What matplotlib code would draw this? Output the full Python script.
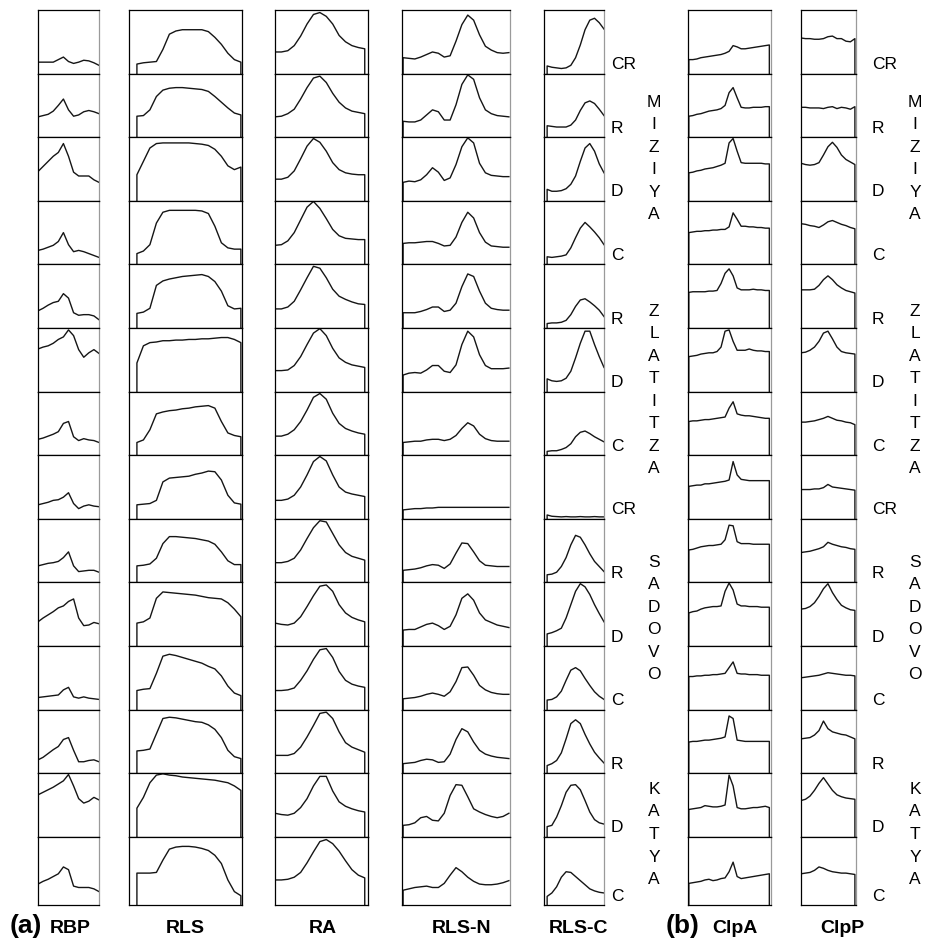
import numpy as np
import matplotlib
matplotlib.use('Agg')
import matplotlib.pyplot as plt

plt.rcParams['font.family'] = ['Liberation Sans', 'DejaVu Sans']

columns = ['RBP', 'RLS', 'RA', 'RLS-N', 'RLS-C', 'ClpA', 'ClpP']
row_labels = ['CR', 'R', 'D', 'C', 'R', 'D', 'C', 'CR', 'R', 'D', 'C', 'R', 'D', 'C']
groups = ['MIZIYA', 'ZLATITZA', 'SADOVO', 'KATYA']

# densitometry traces, y = relative intensity (0 bottom .. 1 top of the lane box)
rbp_x = np.linspace(0, 1, 13)
rbp = [
    [0.18, 0.18, 0.18, 0.18, 0.22, 0.26, 0.19, 0.16, 0.18, 0.21, 0.20, 0.17, 0.13],
    [0.32, 0.34, 0.36, 0.41, 0.50, 0.60, 0.43, 0.33, 0.35, 0.40, 0.42, 0.40, 0.37],
    [0.46, 0.54, 0.62, 0.70, 0.76, 0.90, 0.70, 0.45, 0.39, 0.39, 0.39, 0.33, 0.29],
    [0.22, 0.24, 0.27, 0.30, 0.36, 0.50, 0.31, 0.20, 0.22, 0.20, 0.17, 0.14, 0.11],
    [0.27, 0.31, 0.36, 0.40, 0.42, 0.54, 0.47, 0.24, 0.20, 0.21, 0.21, 0.19, 0.13],
    [0.67, 0.70, 0.72, 0.76, 0.82, 0.86, 0.97, 0.88, 0.66, 0.54, 0.61, 0.66, 0.60],
    [0.25, 0.27, 0.30, 0.33, 0.37, 0.50, 0.53, 0.29, 0.23, 0.26, 0.24, 0.23, 0.20],
    [0.22, 0.24, 0.26, 0.29, 0.30, 0.34, 0.41, 0.24, 0.16, 0.20, 0.22, 0.20, 0.19],
    [0.26, 0.28, 0.30, 0.31, 0.33, 0.39, 0.48, 0.26, 0.17, 0.18, 0.19, 0.19, 0.16],
    [0.38, 0.44, 0.49, 0.54, 0.60, 0.63, 0.70, 0.74, 0.44, 0.32, 0.33, 0.37, 0.35],
    [0.19, 0.20, 0.21, 0.22, 0.23, 0.31, 0.35, 0.20, 0.18, 0.20, 0.18, 0.17, 0.16],
    [0.21, 0.25, 0.31, 0.37, 0.42, 0.53, 0.56, 0.36, 0.18, 0.18, 0.20, 0.21, 0.18],
    [0.66, 0.70, 0.74, 0.78, 0.83, 0.88, 0.98, 0.80, 0.60, 0.53, 0.56, 0.62, 0.58],
    [0.31, 0.35, 0.38, 0.42, 0.46, 0.56, 0.52, 0.28, 0.26, 0.26, 0.26, 0.24, 0.20],
]

rls_x = np.linspace(0.07, 0.99, 17)
rls = [
    [0.15, 0.17, 0.18, 0.19, 0.38, 0.62, 0.67, 0.69, 0.69, 0.69, 0.69, 0.66, 0.57, 0.46, 0.32, 0.22, 0.18],
    [0.33, 0.34, 0.43, 0.64, 0.74, 0.77, 0.78, 0.78, 0.77, 0.76, 0.75, 0.72, 0.64, 0.55, 0.46, 0.38, 0.35],
    [0.41, 0.62, 0.83, 0.90, 0.91, 0.91, 0.91, 0.91, 0.91, 0.90, 0.89, 0.87, 0.81, 0.70, 0.55, 0.49, 0.53],
    [0.17, 0.21, 0.31, 0.65, 0.82, 0.85, 0.85, 0.85, 0.85, 0.85, 0.84, 0.80, 0.60, 0.34, 0.26, 0.24, 0.24],
    [0.23, 0.25, 0.31, 0.67, 0.74, 0.77, 0.79, 0.81, 0.82, 0.83, 0.84, 0.81, 0.73, 0.58, 0.35, 0.30, 0.31],
    [0.45, 0.72, 0.77, 0.78, 0.80, 0.80, 0.81, 0.81, 0.82, 0.82, 0.83, 0.83, 0.84, 0.85, 0.85, 0.82, 0.77],
    [0.20, 0.24, 0.40, 0.65, 0.68, 0.70, 0.71, 0.73, 0.74, 0.76, 0.77, 0.78, 0.74, 0.53, 0.35, 0.31, 0.29],
    [0.22, 0.23, 0.24, 0.29, 0.58, 0.64, 0.65, 0.66, 0.67, 0.70, 0.72, 0.75, 0.74, 0.61, 0.37, 0.25, 0.23],
    [0.26, 0.27, 0.29, 0.38, 0.61, 0.72, 0.72, 0.71, 0.70, 0.69, 0.67, 0.65, 0.60, 0.48, 0.34, 0.28, 0.28],
    [0.36, 0.38, 0.44, 0.75, 0.85, 0.84, 0.83, 0.82, 0.81, 0.80, 0.78, 0.76, 0.75, 0.74, 0.68, 0.58, 0.46],
    [0.30, 0.32, 0.33, 0.57, 0.84, 0.87, 0.85, 0.82, 0.79, 0.76, 0.73, 0.68, 0.64, 0.53, 0.37, 0.26, 0.22],
    [0.35, 0.36, 0.38, 0.62, 0.86, 0.88, 0.87, 0.85, 0.83, 0.81, 0.80, 0.76, 0.69, 0.56, 0.36, 0.26, 0.23],
    [0.45, 0.62, 0.85, 0.97, 0.99, 0.97, 0.96, 0.94, 0.93, 0.92, 0.91, 0.90, 0.89, 0.87, 0.85, 0.80, 0.73],
    [0.47, 0.47, 0.47, 0.48, 0.66, 0.82, 0.85, 0.86, 0.86, 0.85, 0.83, 0.80, 0.73, 0.61, 0.37, 0.20, 0.14],
]

ra_x = np.linspace(0, 0.965, 15)
ra = [
    [0.34, 0.34, 0.36, 0.44, 0.59, 0.78, 0.93, 0.96, 0.90, 0.78, 0.60, 0.50, 0.44, 0.41, 0.39],
    [0.32, 0.33, 0.37, 0.44, 0.60, 0.78, 0.93, 0.96, 0.86, 0.69, 0.55, 0.46, 0.41, 0.39, 0.37],
    [0.34, 0.34, 0.37, 0.47, 0.66, 0.86, 0.98, 0.92, 0.78, 0.60, 0.49, 0.44, 0.42, 0.41, 0.41],
    [0.30, 0.31, 0.37, 0.50, 0.70, 0.90, 0.99, 0.88, 0.72, 0.55, 0.45, 0.41, 0.40, 0.39, 0.39],
    [0.30, 0.30, 0.33, 0.42, 0.60, 0.79, 0.97, 0.94, 0.79, 0.61, 0.50, 0.45, 0.41, 0.38, 0.37],
    [0.33, 0.33, 0.34, 0.41, 0.55, 0.74, 0.92, 0.99, 0.88, 0.68, 0.53, 0.46, 0.42, 0.40, 0.38],
    [0.30, 0.30, 0.33, 0.40, 0.53, 0.71, 0.91, 0.97, 0.88, 0.66, 0.50, 0.42, 0.38, 0.35, 0.33],
    [0.29, 0.29, 0.31, 0.37, 0.50, 0.69, 0.90, 0.98, 0.91, 0.69, 0.50, 0.42, 0.39, 0.37, 0.35],
    [0.31, 0.31, 0.33, 0.38, 0.51, 0.69, 0.86, 0.97, 0.95, 0.77, 0.59, 0.47, 0.41, 0.38, 0.35],
    [0.36, 0.34, 0.33, 0.36, 0.46, 0.62, 0.79, 0.94, 0.96, 0.86, 0.65, 0.52, 0.45, 0.41, 0.38],
    [0.30, 0.30, 0.31, 0.34, 0.46, 0.61, 0.79, 0.94, 0.96, 0.82, 0.60, 0.46, 0.40, 0.37, 0.35],
    [0.28, 0.28, 0.28, 0.31, 0.41, 0.57, 0.75, 0.94, 0.96, 0.86, 0.65, 0.48, 0.41, 0.37, 0.33],
    [0.37, 0.35, 0.34, 0.37, 0.46, 0.60, 0.80, 0.95, 0.95, 0.72, 0.55, 0.48, 0.44, 0.41, 0.39],
    [0.37, 0.37, 0.38, 0.41, 0.48, 0.62, 0.78, 0.93, 0.96, 0.90, 0.79, 0.65, 0.52, 0.44, 0.40],
]

rls_n_x = np.linspace(0.01, 0.99, 19)
rls_n = [
    [0.25, 0.24, 0.23, 0.26, 0.30, 0.34, 0.32, 0.26, 0.28, 0.51, 0.77, 0.92, 0.84, 0.61, 0.43, 0.37, 0.33, 0.32, 0.33],
    [0.25, 0.24, 0.24, 0.27, 0.35, 0.43, 0.40, 0.27, 0.27, 0.51, 0.83, 0.98, 0.91, 0.62, 0.43, 0.37, 0.34, 0.33, 0.32],
    [0.29, 0.31, 0.30, 0.33, 0.41, 0.52, 0.45, 0.32, 0.36, 0.57, 0.85, 0.99, 0.91, 0.59, 0.44, 0.40, 0.39, 0.38, 0.38],
    [0.33, 0.34, 0.34, 0.35, 0.36, 0.36, 0.33, 0.29, 0.30, 0.43, 0.66, 0.82, 0.73, 0.50, 0.35, 0.29, 0.28, 0.27, 0.27],
    [0.24, 0.24, 0.24, 0.26, 0.29, 0.33, 0.33, 0.26, 0.28, 0.39, 0.65, 0.85, 0.81, 0.58, 0.39, 0.31, 0.29, 0.28, 0.28],
    [0.26, 0.29, 0.30, 0.29, 0.34, 0.41, 0.41, 0.32, 0.30, 0.42, 0.74, 0.95, 0.86, 0.58, 0.41, 0.36, 0.36, 0.36, 0.37],
    [0.20, 0.21, 0.22, 0.22, 0.24, 0.25, 0.25, 0.23, 0.25, 0.31, 0.42, 0.51, 0.46, 0.33, 0.26, 0.23, 0.22, 0.22, 0.22],
    [0.14, 0.15, 0.16, 0.16, 0.17, 0.17, 0.18, 0.18, 0.18, 0.18, 0.18, 0.18, 0.18, 0.18, 0.18, 0.18, 0.18, 0.18, 0.18],
    [0.19, 0.20, 0.21, 0.23, 0.26, 0.28, 0.27, 0.22, 0.29, 0.46, 0.62, 0.61, 0.48, 0.34, 0.27, 0.26, 0.25, 0.25, 0.25],
    [0.25, 0.26, 0.26, 0.30, 0.34, 0.36, 0.32, 0.26, 0.31, 0.49, 0.75, 0.82, 0.72, 0.52, 0.41, 0.37, 0.33, 0.31, 0.29],
    [0.17, 0.18, 0.19, 0.21, 0.24, 0.26, 0.24, 0.21, 0.28, 0.44, 0.66, 0.67, 0.54, 0.38, 0.31, 0.27, 0.25, 0.24, 0.24],
    [0.15, 0.16, 0.17, 0.20, 0.22, 0.21, 0.17, 0.18, 0.30, 0.53, 0.70, 0.65, 0.49, 0.36, 0.30, 0.27, 0.25, 0.24, 0.23],
    [0.18, 0.19, 0.22, 0.30, 0.32, 0.26, 0.25, 0.37, 0.65, 0.82, 0.81, 0.63, 0.44, 0.39, 0.35, 0.32, 0.30, 0.32, 0.37],
    [0.22, 0.24, 0.26, 0.27, 0.28, 0.26, 0.26, 0.32, 0.44, 0.55, 0.49, 0.41, 0.35, 0.31, 0.30, 0.30, 0.31, 0.33, 0.36],
]

rls_c_x = np.linspace(0.06, 1.0, 13)
rls_c = [
    [0.12, 0.10, 0.09, 0.08, 0.09, 0.13, 0.25, 0.45, 0.69, 0.84, 0.87, 0.80, 0.70],
    [0.18, 0.17, 0.16, 0.16, 0.16, 0.19, 0.27, 0.42, 0.54, 0.57, 0.53, 0.44, 0.34],
    [0.18, 0.15, 0.15, 0.16, 0.19, 0.26, 0.39, 0.62, 0.83, 0.90, 0.78, 0.58, 0.44],
    [0.12, 0.11, 0.12, 0.13, 0.15, 0.26, 0.42, 0.57, 0.66, 0.59, 0.51, 0.42, 0.31],
    [0.07, 0.08, 0.08, 0.09, 0.12, 0.21, 0.34, 0.44, 0.46, 0.41, 0.35, 0.28, 0.18],
    [0.20, 0.17, 0.16, 0.17, 0.21, 0.32, 0.53, 0.76, 0.95, 0.95, 0.74, 0.55, 0.38],
    [0.06, 0.07, 0.07, 0.09, 0.12, 0.18, 0.29, 0.36, 0.38, 0.34, 0.29, 0.25, 0.21],
    [0.06, 0.04, 0.035, 0.03, 0.035, 0.03, 0.03, 0.035, 0.03, 0.03, 0.035, 0.03, 0.03],
    [0.12, 0.13, 0.16, 0.25, 0.39, 0.59, 0.74, 0.71, 0.59, 0.45, 0.33, 0.25, 0.17],
    [0.19, 0.21, 0.24, 0.28, 0.44, 0.65, 0.86, 0.98, 0.93, 0.81, 0.65, 0.51, 0.38],
    [0.15, 0.16, 0.20, 0.29, 0.46, 0.62, 0.66, 0.61, 0.49, 0.38, 0.28, 0.21, 0.16],
    [0.12, 0.15, 0.20, 0.32, 0.54, 0.78, 0.84, 0.78, 0.61, 0.46, 0.33, 0.24, 0.16],
    [0.16, 0.18, 0.31, 0.49, 0.70, 0.81, 0.82, 0.74, 0.57, 0.39, 0.27, 0.22, 0.20],
    [0.13, 0.18, 0.27, 0.41, 0.49, 0.48, 0.42, 0.36, 0.30, 0.24, 0.21, 0.19, 0.18],
]

clpa_x = np.linspace(0.01, 0.98, 21)
clpa = [
    [0.22, 0.22, 0.23, 0.25, 0.26, 0.27, 0.28, 0.29, 0.30, 0.32, 0.35, 0.44, 0.42, 0.39, 0.39, 0.40, 0.41, 0.42, 0.43, 0.44, 0.45],
    [0.33, 0.34, 0.36, 0.37, 0.39, 0.41, 0.42, 0.43, 0.45, 0.50, 0.70, 0.78, 0.62, 0.47, 0.46, 0.46, 0.47, 0.47, 0.47, 0.48, 0.48],
    [0.44, 0.45, 0.47, 0.48, 0.50, 0.51, 0.52, 0.54, 0.56, 0.59, 0.91, 0.98, 0.78, 0.60, 0.59, 0.59, 0.59, 0.59, 0.59, 0.58, 0.58],
    [0.50, 0.51, 0.52, 0.52, 0.53, 0.53, 0.54, 0.54, 0.55, 0.55, 0.59, 0.81, 0.71, 0.60, 0.60, 0.59, 0.59, 0.58, 0.58, 0.57, 0.57],
    [0.56, 0.57, 0.57, 0.57, 0.57, 0.58, 0.58, 0.59, 0.70, 0.86, 0.93, 0.82, 0.63, 0.60, 0.60, 0.60, 0.61, 0.60, 0.60, 0.59, 0.59],
    [0.55, 0.56, 0.57, 0.59, 0.60, 0.61, 0.61, 0.63, 0.70, 0.95, 0.97, 0.79, 0.65, 0.65, 0.65, 0.67, 0.65, 0.64, 0.64, 0.63, 0.63],
    [0.53, 0.54, 0.54, 0.55, 0.56, 0.56, 0.57, 0.58, 0.59, 0.60, 0.74, 0.84, 0.65, 0.63, 0.62, 0.62, 0.61, 0.60, 0.59, 0.58, 0.58],
    [0.51, 0.52, 0.53, 0.53, 0.55, 0.55, 0.56, 0.57, 0.58, 0.59, 0.61, 0.90, 0.69, 0.62, 0.61, 0.60, 0.60, 0.60, 0.60, 0.60, 0.60],
    [0.51, 0.52, 0.54, 0.56, 0.57, 0.58, 0.58, 0.59, 0.60, 0.67, 0.90, 0.89, 0.64, 0.61, 0.61, 0.61, 0.60, 0.60, 0.60, 0.60, 0.60],
    [0.52, 0.54, 0.55, 0.58, 0.60, 0.61, 0.62, 0.62, 0.63, 0.86, 0.99, 0.88, 0.66, 0.63, 0.63, 0.62, 0.62, 0.62, 0.61, 0.61, 0.61],
    [0.52, 0.52, 0.53, 0.53, 0.54, 0.54, 0.55, 0.55, 0.56, 0.57, 0.66, 0.75, 0.57, 0.56, 0.56, 0.55, 0.55, 0.55, 0.54, 0.54, 0.54],
    [0.49, 0.50, 0.50, 0.51, 0.52, 0.52, 0.53, 0.54, 0.55, 0.57, 0.90, 0.86, 0.52, 0.51, 0.50, 0.50, 0.50, 0.50, 0.50, 0.50, 0.50],
    [0.43, 0.44, 0.45, 0.46, 0.49, 0.48, 0.47, 0.47, 0.48, 0.50, 0.97, 0.80, 0.46, 0.44, 0.44, 0.45, 0.46, 0.46, 0.47, 0.48, 0.46],
    [0.32, 0.33, 0.34, 0.35, 0.37, 0.38, 0.36, 0.37, 0.39, 0.40, 0.49, 0.63, 0.42, 0.39, 0.40, 0.41, 0.42, 0.43, 0.44, 0.45, 0.46],
]

clpp_x = np.linspace(0, 0.98, 13)
clpp = [
    [0.56, 0.55, 0.55, 0.54, 0.54, 0.55, 0.58, 0.59, 0.55, 0.55, 0.51, 0.50, 0.55],
    [0.47, 0.47, 0.46, 0.46, 0.46, 0.45, 0.47, 0.48, 0.45, 0.47, 0.46, 0.44, 0.48],
    [0.59, 0.57, 0.56, 0.57, 0.60, 0.72, 0.85, 0.92, 0.84, 0.72, 0.65, 0.61, 0.57],
    [0.64, 0.63, 0.61, 0.60, 0.58, 0.62, 0.67, 0.69, 0.66, 0.63, 0.61, 0.58, 0.56],
    [0.60, 0.60, 0.60, 0.61, 0.67, 0.76, 0.82, 0.76, 0.68, 0.63, 0.59, 0.57, 0.55],
    [0.61, 0.62, 0.65, 0.70, 0.79, 0.92, 0.95, 0.83, 0.70, 0.63, 0.61, 0.60, 0.59],
    [0.52, 0.52, 0.53, 0.54, 0.56, 0.58, 0.61, 0.58, 0.55, 0.54, 0.52, 0.51, 0.48],
    [0.46, 0.46, 0.46, 0.47, 0.47, 0.49, 0.54, 0.50, 0.49, 0.48, 0.47, 0.46, 0.45],
    [0.47, 0.48, 0.49, 0.51, 0.53, 0.56, 0.63, 0.60, 0.58, 0.56, 0.55, 0.53, 0.52],
    [0.58, 0.59, 0.62, 0.68, 0.78, 0.90, 0.98, 0.84, 0.73, 0.64, 0.60, 0.57, 0.56],
    [0.50, 0.51, 0.52, 0.53, 0.54, 0.56, 0.58, 0.57, 0.56, 0.55, 0.54, 0.54, 0.53],
    [0.54, 0.55, 0.56, 0.60, 0.67, 0.82, 0.70, 0.65, 0.63, 0.61, 0.60, 0.57, 0.54],
    [0.57, 0.59, 0.64, 0.73, 0.84, 0.93, 0.83, 0.73, 0.66, 0.63, 0.61, 0.60, 0.59],
    [0.46, 0.47, 0.48, 0.51, 0.56, 0.54, 0.51, 0.49, 0.48, 0.47, 0.47, 0.46, 0.45],
]

traces = {
    'RBP': (rbp_x, rbp), 'RLS': (rls_x, rls), 'RA': (ra_x, ra),
    'RLS-N': (rls_n_x, rls_n), 'RLS-C': (rls_c_x, rls_c),
    'ClpA': (clpa_x, clpa), 'ClpP': (clpp_x, clpp),
}

# layout in pixels
W, H = 925, 939
col_px = {'RBP': (38, 99), 'RLS': (129, 242), 'RA': (275, 368), 'RLS-N': (402, 510),
          'RLS-C': (543.5, 604), 'ClpA': (688, 771), 'ClpP': (801, 856)}
row_edges = [10 + 63.6 * r for r in range(14)] + [905.3]
rise_left = {'RLS', 'RLS-N', 'RLS-C', 'ClpA'}
drop_right = {'RLS', 'RA', 'ClpA', 'ClpP'}
gray_right = {'RBP', 'RLS-N', 'RLS-C', 'ClpA', 'ClpP'}

fig = plt.figure(figsize=(W / 100, H / 100), dpi=100)

for name in columns:
    xs, profiles = traces[name]
    x0, x1 = col_px[name]
    for r, ys in enumerate(profiles):
        top, bot = row_edges[r], row_edges[r + 1]
        ax = fig.add_axes([x0 / W, 1 - bot / H, (x1 - x0) / W, (bot - top) / H])
        px, py = list(xs), list(ys)
        if name in rise_left:
            px = [xs[0]] + px
            py = [0] + py
        if name in drop_right:
            px = px + [xs[-1]]
            py = py + [0]
        ax.plot(px, py, color='#151515', lw=1.0, solid_joinstyle='round')
        ax.set_xlim(0, 1)
        ax.set_ylim(0, 1)
        ax.set_xticks([])
        ax.set_yticks([])
        for s in ax.spines.values():
            s.set_linewidth(0.9)
            s.set_color('black')
        if name in gray_right:
            ax.spines['right'].set_color('#9a9a9a')


def ftext(x, y, s, **kw):
    fig.text(x / W, 1 - y / H, s, **kw)


for r, lab in enumerate(row_labels):
    yb = row_edges[r + 1] - 9
    ftext(611, yb, lab, fontsize=12.5, ha='left', va='center')
    ftext(872, yb, lab, fontsize=12.5, ha='left', va='center')

group_mid = [158.5, 390, 618.5, 834.5]
for name, mid in zip(groups, group_mid):
    n = len(name)
    for i, ch in enumerate(name):
        y = mid + (i - (n - 1) / 2) * 22.5
        ftext(654, y, ch, fontsize=12.5, ha='center', va='center')
        ftext(915, y, ch, fontsize=12.5, ha='center', va='center')

label_x = {'RBP': 70, 'RLS': 185, 'RA': 323, 'RLS-N': 462, 'RLS-C': 578, 'ClpA': 735, 'ClpP': 842}
for name in columns:
    ftext(label_x[name], 933, name, fontsize=14, fontweight='bold', ha='center', va='baseline')
ftext(26, 933, '(a)', fontsize=19, fontweight='bold', ha='center', va='baseline')
ftext(683, 933, '(b)', fontsize=19, fontweight='bold', ha='center', va='baseline')

fig.savefig('out.png', dpi=100)
